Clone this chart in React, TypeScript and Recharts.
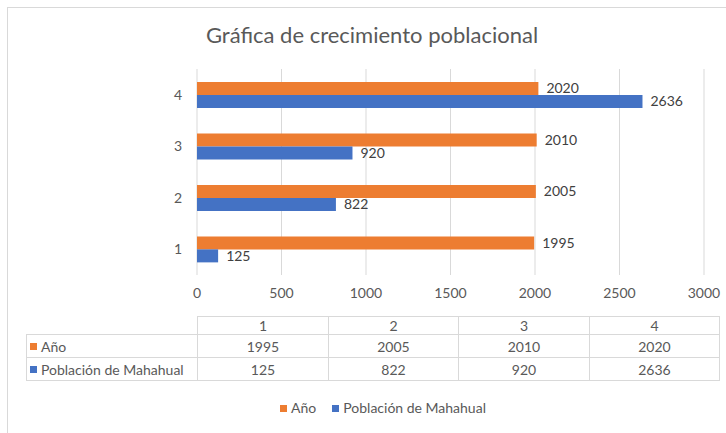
import React from 'react';
import { BarChart, Bar, XAxis, YAxis, CartesianGrid, LabelList } from 'recharts';

const categories = ['1', '2', '3', '4'];
const anio = [1995, 2005, 2010, 2020];
const poblacion = [125, 822, 920, 2636];
const xTicks = [0, 500, 1000, 1500, 2000, 2500, 3000];

const seriesNames = ['Año', 'Población de Mahahual'];
const seriesColors = ['#ED7D31', '#4472C4'];

const FONT = 'Lato, "Open Sans", sans-serif';
const TEXT = '#595959';
const LINE = '#D9D9D9';

const data = categories.map((c, i) => ({ cat: c, anio: anio[i], poblacion: poblacion[i] }));
const tableRows = [anio, poblacion];

const cell: React.CSSProperties = {
  border: `1px solid ${LINE}`,
  textAlign: 'center',
  padding: 0,
  width: 130,
};

const Swatch: React.FC<{ color: string }> = ({ color }) => (
  <span style={{ display: 'inline-block', width: 7, height: 7, background: color, marginRight: 4, verticalAlign: 'middle', position: 'relative', top: -1 }} />
);

const App: React.FC = () => {
  return (
    <div style={{ position: 'fixed', left: 0, top: 0, width: 726, height: 433, overflow: 'hidden', background: '#fff', fontFamily: FONT }}>
      <div style={{ position: 'absolute', left: 0, width: 726, top: 21, textAlign: 'center', fontSize: 22, color: TEXT, paddingLeft: 18, boxSizing: 'border-box' }}>
        Gráfica de crecimiento poblacional
      </div>

      <div style={{ position: 'absolute', left: 0, top: 0 }}>
        <BarChart
          width={726}
          height={305}
          data={data}
          layout="vertical"
          margin={{ top: 69, right: 22, left: 0, bottom: 0 }}
          barCategoryGap="25%"
          barGap={0}
        >
          <CartesianGrid horizontal={false} stroke={LINE} />
          <XAxis
            type="number"
            domain={[0, 3000]}
            ticks={xTicks}
            axisLine={false}
            tickLine={false}
            height={30}
            tickMargin={7}
            tick={{ fill: TEXT, fontSize: 14, fontFamily: FONT }}
          />
          <YAxis
            type="category"
            dataKey="cat"
            reversed
            width={197}
            axisLine={false}
            tickLine={false}
            tickMargin={9}
            tick={{ fill: TEXT, fontSize: 14, fontFamily: FONT }}
          />
          <Bar dataKey="anio" name={seriesNames[0]} fill={seriesColors[0]} isAnimationActive={false}>
            <LabelList dataKey="anio" position="right" offset={8} fill="#404040" fontSize={14} fontFamily={FONT} />
          </Bar>
          <Bar dataKey="poblacion" name={seriesNames[1]} fill={seriesColors[1]} isAnimationActive={false}>
            <LabelList dataKey="poblacion" position="right" offset={8} fill="#404040" fontSize={14} fontFamily={FONT} />
          </Bar>
        </BarChart>
      </div>

      {/* data table */}
      <table style={{ position: 'absolute', left: 26, top: 316, borderCollapse: 'collapse', fontSize: 14, color: TEXT, fontFamily: FONT, tableLayout: 'fixed', width: 693 }}>
        <colgroup>
          <col style={{ width: 171 }} />
          <col style={{ width: 131 }} />
          <col style={{ width: 130 }} />
          <col style={{ width: 131 }} />
          <col style={{ width: 130 }} />
        </colgroup>
        <tbody>
          <tr style={{ height: 18 }}>
            <td style={{ padding: 0 }} />
            {categories.map((c) => (
              <td key={c} style={cell}>{c}</td>
            ))}
          </tr>
          {tableRows.map((row, r) => (
            <tr key={r} style={{ height: 23 }}>
              <td style={{ border: `1px solid ${LINE}`, padding: '0 0 0 3px', whiteSpace: 'nowrap' }}>
                <Swatch color={seriesColors[r]} />
                {seriesNames[r]}
              </td>
              {row.map((v, i) => (
                <td key={i} style={cell}>{v}</td>
              ))}
            </tr>
          ))}
        </tbody>
      </table>

      {/* legend */}
      <div style={{ position: 'absolute', left: 0, width: 726, top: 399, textAlign: 'center', fontSize: 14, color: TEXT, paddingLeft: 40, boxSizing: 'border-box' }}>
        {seriesNames.map((n, i) => (
          <span key={n} style={{ marginRight: i === 0 ? 16 : 0 }}>
            <Swatch color={seriesColors[i]} />
            {n}
          </span>
        ))}
      </div>

      {/* chart area frame */}
      <div style={{ position: 'absolute', left: 7, top: 7, width: 800, height: 500, borderLeft: `1px solid ${LINE}`, borderTop: `1px solid ${LINE}`, pointerEvents: 'none' }} />
    </div>
  );
};

export default App;
